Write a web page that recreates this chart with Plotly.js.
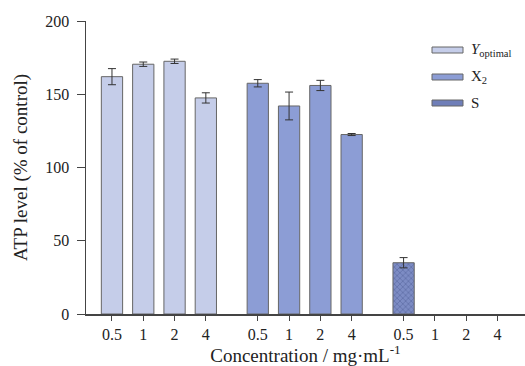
<!DOCTYPE html>
<html><head><meta charset="utf-8">
<script src="https://cdn.plot.ly/plotly-3.0.1.min.js"></script>
<style>body{margin:0}#c{width:525px;height:366px}</style>
</head><body><div id="c"></div>
<script>
const concentrations = ["0.5", "1", "2", "4"];
const seriesNames = ["<i>Y</i><sub>optimal</sub>", "X<sub>2</sub>", "S"];
const yOptimal = [162, 170.5, 172.5, 147.5];
const yOptimalErr = [5.5, 1.5, 1.5, 3.5];
const x2 = [157.5, 142, 156, 122.5];
const x2Err = [2.5, 9.5, 3.5, 0.7];
const s = [35, 0, 0, 0];
const sErr = [3.5, 0, 0, 0];

const groupGap = 4.66;
const colors = ["#c5cde9", "#8c9dd5", "#7d8cc4"];
const groups = [[yOptimal, yOptimalErr], [x2, x2Err], [s, sErr]];
const FONT = "'Liberation Serif', 'Times New Roman', serif";

const traces = groups.map((g, gi) => {
  const xs = concentrations.map((c, i) => gi * groupGap + i);
  const t = {
    type: "bar", x: xs, y: g[0], name: seriesNames[gi], width: 0.68,
    marker: {color: colors[gi], line: {color: "#666", width: 1}},
    error_y: {type: "data", array: g[1], visible: true, color: "#333", thickness: 1, width: 4},
    showlegend: false, hoverinfo: "skip"
  };
  if (gi === 2) {
    t.marker.pattern = {shape: "x", size: 4, solidity: 0.25, fgcolor: "#55639c", bgcolor: colors[gi]};
    t.y = g[0].map(v => v === 0 ? null : v);
  }
  return t;
});

const tickvals = [], ticktext = [];
groups.forEach((g, gi) => concentrations.forEach((c, i) => { tickvals.push(gi * groupGap + i); ticktext.push(c); }));

// legend drawn as shapes in paper coords
const L = 86, W = 439, T = 21, H = 293;
const px = v => (v - L) / W, py = v => (314 - v) / H;
const legY = [50, 77, 103];
const shapes = [], annotations = [];
legY.forEach((yy, i) => {
  const sh = {type: "rect", xref: "paper", yref: "paper", x0: px(432), x1: px(463), y0: py(yy + 3), y1: py(yy - 3),
    fillcolor: colors[i], line: {color: "#666", width: 1}};
  if (i === 2) sh.fillcolor = "#6f7eb8";
  shapes.push(sh);
  annotations.push({xref: "paper", yref: "paper", x: px(469), y: py(yy), xanchor: "left", yanchor: "middle",
    text: seriesNames[i], showarrow: false, font: {family: FONT, size: 15, color: "#222"}});
});

const layout = {
  width: 525, height: 366,
  margin: {l: 86, r: 0, t: 21, b: 52},
  paper_bgcolor: "#fff", plot_bgcolor: "#fff",
  font: {family: FONT, size: 16, color: "#222"},
  barmode: "overlay",
  xaxis: {range: [-0.83, 13.2], tickvals: tickvals, ticktext: ticktext, ticks: "outside", ticklen: 5,
    tickcolor: "#444", showline: true, linecolor: "#444", linewidth: 1.5, showgrid: false, zeroline: false,
    tickfont: {family: FONT, size: 16}, title: {text: "Concentration / mg·mL<sup>-1</sup>", font: {family: FONT, size: 19}, standoff: 6}},
  yaxis: {range: [0, 200], tickvals: [0, 50, 100, 150, 200], ticks: "outside", ticklen: 8, tickcolor: "#444",
    ticklabelstandoff: 4,
    showline: true, linecolor: "#444", linewidth: 1.5, showgrid: false, zeroline: false,
    tickfont: {family: FONT, size: 16}, title: {text: "ATP level (% of control)", font: {family: FONT, size: 19}, standoff: 12}},
  shapes: shapes, annotations: annotations
};
Plotly.newPlot("c", traces, layout, {staticPlot: true});
</script></body></html>
